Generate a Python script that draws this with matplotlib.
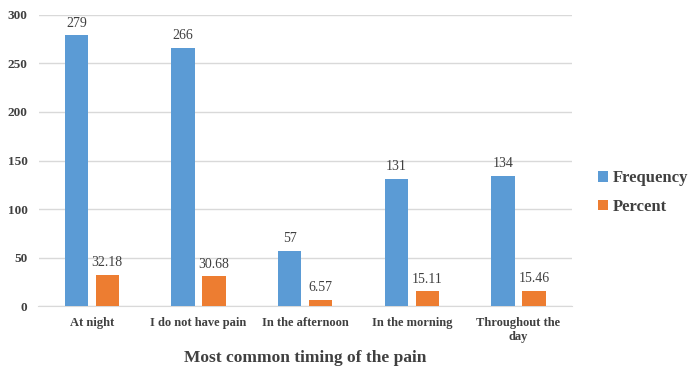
import matplotlib.pyplot as plt
import numpy as np

categories = ['At night', 'I do not have pain', 'In the afternoon', 'In the morning', 'Throughout the\nday']
frequency = [279, 266, 57, 131, 134]
percent = [32.18, 30.68, 6.57, 15.11, 15.46]
freq_labels = ['279', '266', '57', '131', '134']
pct_labels = ['32.18', '30.68', '6.57', '15.11', '15.46']

plt.rcParams['font.family'] = ['Liberation Serif', 'DejaVu Serif']
txt = '#404040'

fig = plt.figure(figsize=(7, 3.84), dpi=100)
ax = fig.add_axes([0.055, 0.203, 0.762, 0.758])

x = np.arange(len(categories))
w = 0.22
b1 = ax.bar(x - 0.145, frequency, w, color='#5B9BD5', label='Frequency', zorder=3)
b2 = ax.bar(x + 0.145, percent, w, color='#ED7D31', label='Percent', zorder=3)

ax.bar_label(b1, labels=freq_labels, padding=4, fontsize=10, color=txt)
ax.bar_label(b2, labels=pct_labels, padding=4, fontsize=10, color=txt)

ax.set_ylim(0, 300)
ax.set_xlim(-0.5, 4.5)
ax.set_yticks(range(0, 301, 50))
ax.set_xticks(x)
ax.set_xticklabels(categories, fontsize=9, fontweight='bold', color=txt, linespacing=1.2)
for t in ax.get_yticklabels():
    t.set_fontsize(9.5)
    t.set_fontweight('bold')
    t.set_color(txt)
ax.tick_params(axis='x', length=0, pad=8)
ax.tick_params(axis='y', length=0, pad=8)
ax.grid(axis='y', color='#D9D9D9', linewidth=1, zorder=0)
for s in ['top', 'right', 'left']:
    ax.spines[s].set_visible(False)
ax.spines['bottom'].set_color('#D9D9D9')

ax.set_xlabel('Most common timing of the pain', fontsize=12.5, fontweight='bold', color=txt)
ax.xaxis.set_label_coords(0.5, -0.152)

ax.legend(loc='center left', bbox_to_anchor=(1.02, 0.39), frameon=False,
          prop={'size': 12, 'weight': 'bold'}, labelcolor=txt,
          handlelength=0.6, handleheight=0.6, handletextpad=0.3, labelspacing=0.75)

fig.savefig('out.png', dpi=100)
